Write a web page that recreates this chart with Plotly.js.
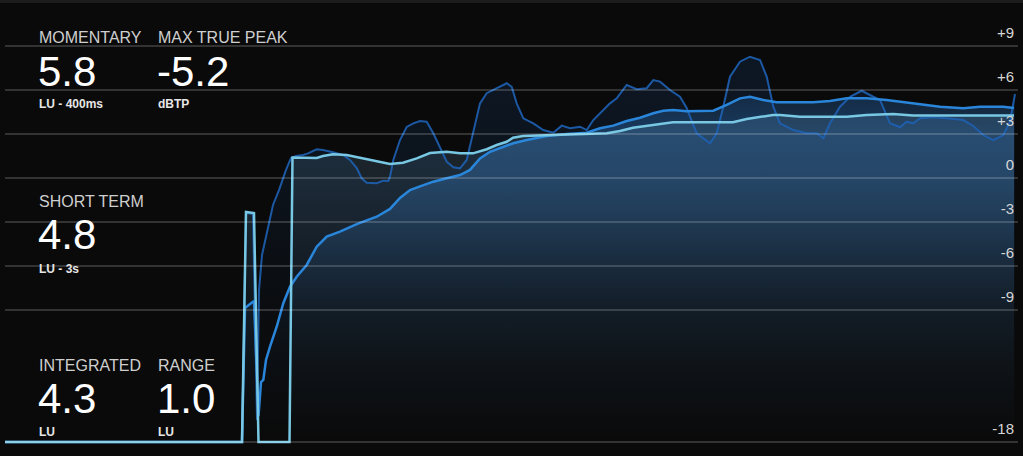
<!DOCTYPE html>
<html>
<head>
<meta charset="utf-8">
<script src="https://cdn.plot.ly/plotly-3.0.1.min.js"></script>
<style>
  html, body { margin: 0; padding: 0; background: #0a0a0a; }
  #chart { width: 1023px; height: 456px; }
</style>
</head>
<body>
<div id="chart"></div>
<script>
// ---- Data ----
const timeIntegrated = [0,237,241,249,253.5,284.5,287.5,311.7,318,328,341.7,351.7,365,375,385,398,411.7,425,441.7,455,468,481.7,491.7,501.7,508,518,541.7,561.7,581.7,601.7,615,628,648,668,695,728,741.7,755,768,775,795,841.7,861.7,888,908,1009];
const integrated = [-18,-18,-2.32,-2.39,-18,-18,1.40,1.36,1.50,1.62,1.57,1.43,1.23,1.11,0.95,1.04,1.34,1.70,1.79,1.68,1.68,1.96,2.25,2.47,2.75,2.86,2.91,3.0,3.0,3.05,3.20,3.43,3.61,3.80,3.80,3.80,4.02,4.14,4.30,4.30,4.18,4.18,4.30,4.36,4.27,4.27];

const timeShort = [0,237,240,249,253.5,256,258.3,261,265,271.7,278.3,285,291.7,301.7,311.7,321.7,335,351.7,371.7,385,395,405,415,428.3,441.7,455,465,475,485,498.3,508.3,521.7,541.7,561.7,581.7,595,608.3,621.7,635,648.3,658.3,668.3,681.7,708.3,721.7,735,745,758.3,771.7,808.3,825,841.7,861.7,881.7,908.3,935,958.3,975,998.3,1009];
const shortTerm = [-18,-18,-8.86,-8.39,-16.23,-13.91,-13.77,-12.41,-11.50,-10.14,-8.54,-7.41,-6.73,-5.93,-4.68,-4.0,-3.66,-3.14,-2.64,-2.11,-1.36,-0.82,-0.57,-0.25,-0.02,0.20,0.55,1.34,1.79,2.13,2.37,2.59,2.86,3.0,3.09,3.39,3.57,3.89,4.11,4.41,4.59,4.64,4.55,4.59,4.98,5.43,5.54,5.32,5.16,5.16,5.25,5.43,5.43,5.32,5.09,4.86,4.75,4.86,4.86,4.77];

const timeMomentary = [0,237,241,248,252,254,257,261,265,268,274,281,286,291,298,303,311.7,318,328,338,345,351.7,356.7,361.7,371.7,378.3,383.3,385,388.3,395,401.7,408.3,415,421.7,428.3,435,441.7,448.3,455,461.7,468.3,475,481.7,491.7,501.7,506.7,511.7,518.3,528.3,538.3,548.3,556.7,565,575,581.7,588.3,595,605,611.7,621.7,631.7,641.7,648.3,655,665,675,681.7,691.7,705,711.7,718.3,725,735,745,755,761.7,768.3,775,788.3,801.7,811.7,818.3,825,835,845,856.7,868.3,875,885,895,901.7,908.3,915,928.3,941.7,958.3,968.3,978.3,988.3,998.3,1005,1008.3,1010];
const momentary = [-18,-18,-2.39,-2.45,-16.5,-7.64,-5.25,-3.95,-2.73,-1.84,-0.82,0.55,1.36,1.50,1.57,1.68,1.96,1.91,1.75,1.57,1.23,0.68,-0.02,-0.32,-0.36,-0.18,-0.20,0.09,1.23,2.59,3.48,3.73,3.89,3.84,3.05,2.13,1.11,0.73,0.66,1.23,3.05,5.09,5.78,6.12,6.46,6.22,5.09,4.07,3.73,3.27,3.09,3.57,3.39,3.50,3.27,3.95,4.41,5.09,5.43,6.34,6.05,6.12,6.68,6.57,6.0,5.54,4.77,3.05,2.37,3.05,4.86,6.91,7.93,8.27,8.05,6.91,4.86,3.73,3.27,3.05,3.05,2.71,3.73,4.86,5.54,5.95,5.54,5.32,3.73,3.46,3.84,3.73,4.07,4.14,4.07,3.95,3.55,2.93,2.59,2.93,3.84,4.98,5.73];

const tickVals = [9, 6, 3, 0, -3, -6, -9, -18];
const tickText = ['+9', '+6', '+3', '0', '-3', '-6', '-9', '-18'];

const readoutLabels = ['MOMENTARY', 'MAX TRUE PEAK', 'SHORT TERM', 'INTEGRATED', 'RANGE'];
const readoutValues = ['5.8', '-5.2', '4.8', '4.3', '1.0'];
const readoutUnits  = ['LU - 400ms', 'dBTP', 'LU - 3s', 'LU', 'LU'];

// ---- Layout helpers ----
const W = 1023, H = 456;
const M = { l: 5, r: 5, t: 10, b: 10 };
const FLOOR = -18;
const yRange = [-18.273, 11.455];
const xRange = [0, 1013];
const px = x => (x - M.l) / (W - M.l - M.r);
const py = y => (H - M.b - y) / (H - M.t - M.b);

const readoutPos = [
  { x: 39, yLabel: 37, yValue: 71, yUnit: 104 },
  { x: 158, yLabel: 37, yValue: 71, yUnit: 104 },
  { x: 39, yLabel: 201, yValue: 235, yUnit: 269 },
  { x: 39, yLabel: 365, yValue: 398, yUnit: 432 },
  { x: 158, yLabel: 365, yValue: 398, yUnit: 432 }
];

const FONT = 'Liberation Sans, Arial, sans-serif';

function areaTrace(t, v, style) {
  return Object.assign({
    x: t.concat([t[t.length - 1], t[0]]),
    y: v.concat([FLOOR, FLOOR]),
    type: 'scatter', mode: 'lines', fill: 'toself',
    line: { width: 0, color: 'rgba(0,0,0,0)' },
    hoverinfo: 'skip', showlegend: false
  }, style);
}
function lineTrace(t, v, color, width, name) {
  return { x: t, y: v, type: 'scatter', mode: 'lines', name: name,
    line: { color: color, width: width }, hoverinfo: 'skip', showlegend: false };
}
function vGrad(start, stop, stops) {
  return {
    type: 'vertical', start: start, stop: stop,
    colorscale: stops.map(s => [(s[0] - start) / (stop - start), 'rgba(' + s[1] + ',' + s[2] + ')'])
  };
}

const traces = [
  areaTrace(timeMomentary, momentary, {
    fillcolor: 'rgba(30,100,190,0.12)',
    fillgradient: vGrad(-18, 8.3, [[-18, '30,100,190', 0], [-9, '30,100,190', 0.03], [0, '30,100,190', 0.10], [8.3, '30,100,190', 0.14]])
  }),
  areaTrace(timeShort, shortTerm, {
    fillcolor: 'rgba(40,100,165,0.4)',
    fillgradient: vGrad(-18, 5.6, [[-18, '40,100,165', 0], [-13, '40,100,165', 0.03], [-9, '40,100,165', 0.09],
      [-6, '40,100,165', 0.18], [-3, '40,100,165', 0.30], [0, '40,100,165', 0.42], [3, '40,100,165', 0.48], [5.6, '40,100,165', 0.28]])
  }),
  areaTrace(timeIntegrated, integrated, {
    fillcolor: 'rgba(100,150,185,0.18)',
    fillgradient: vGrad(-18, 4.4, [[-18, '100,150,185', 0], [-9, '100,150,185', 0.06], [-3, '100,150,185', 0.14],
      [0, '100,150,185', 0.18], [4.4, '100,150,185', 0.20]])
  }),
  lineTrace(timeMomentary, momentary, 'rgba(30,96,178,0.9)', 2, 'Momentary'),
  lineTrace(timeShort, shortTerm, '#2a86da', 2.5, 'Short term'),
  lineTrace(timeIntegrated, integrated, '#78c8e4', 2.5, 'Integrated')
];

const annotations = [];
readoutLabels.forEach((lab, i) => {
  const p = readoutPos[i];
  annotations.push({ xref: 'paper', yref: 'paper', x: px(p.x - 2), y: py(p.yLabel), xanchor: 'left', yanchor: 'middle',
    text: lab, showarrow: false, font: { family: FONT, size: 16, color: '#cfcfcf' } });
  annotations.push({ xref: 'paper', yref: 'paper', x: px(p.x - 3), y: py(p.yValue), xanchor: 'left', yanchor: 'middle',
    text: readoutValues[i], showarrow: false, font: { family: FONT, size: 42, color: '#ffffff' } });
  annotations.push({ xref: 'paper', yref: 'paper', x: px(p.x - 2), y: py(p.yUnit), xanchor: 'left', yanchor: 'middle',
    text: '<b>' + readoutUnits[i] + '</b>', showarrow: false, font: { family: FONT, size: 12, color: '#e6e6e6' } });
});

const shapes = [
  { type: 'rect', xref: 'paper', yref: 'paper', x0: px(0), x1: px(W), y0: py(3), y1: py(0),
    fillcolor: '#1c1c1c', line: { width: 0 }, layer: 'below' }
].concat(tickVals.map(v => ({
  type: 'line', xref: 'paper', yref: 'y', x0: 0, x1: 1, y0: v, y1: v,
  line: { color: 'rgba(255,255,255,0.17)', width: 2 }, layer: 'above'
})));

const layout = {
  width: W, height: H,
  margin: M,
  paper_bgcolor: '#0a0a0a',
  plot_bgcolor: '#0a0a0a',
  showlegend: false,
  xaxis: { range: xRange, visible: false, fixedrange: true },
  yaxis: {
    range: yRange, side: 'right', showgrid: false, zeroline: false, showline: false,
    tickmode: 'array', tickvals: tickVals, ticktext: tickText,
    ticks: '', ticklabelposition: 'inside', ticklabelshift: -13, ticklabelstandoff: 1,
    tickfont: { family: FONT, size: 15, color: '#d6d6d6' }, fixedrange: true
  },
  annotations: annotations,
  shapes: shapes
};

Plotly.newPlot('chart', traces, layout, { displayModeBar: false, staticPlot: true });
</script>
</body>
</html>
